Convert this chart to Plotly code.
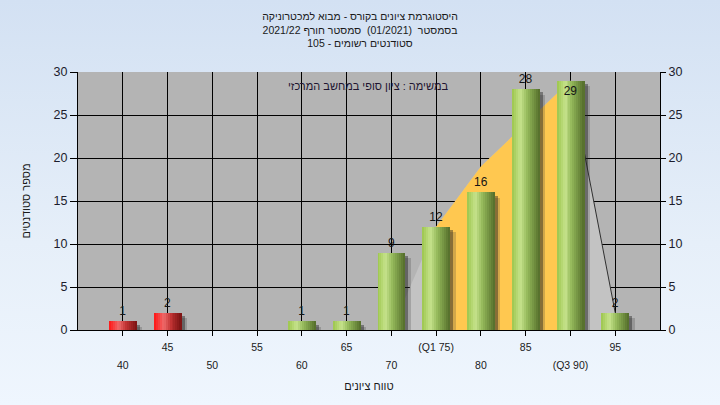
import base64
import plotly.graph_objects as go

# ---------------- data ----------------
grades = [40, 45, 50, 55, 60, 65, 70, 75, 80, 85, 90, 95]
counts = [1, 2, 0, 0, 1, 1, 9, 12, 16, 28, 29, 2]
odd_labels_vals = [45, 55, 65, 75, 85, 95]
odd_labels_text = ["45", "55", "65", "(Q1 75)", "85", "95"]
even_labels_vals = [40, 50, 60, 70, 80, 90]
even_labels_text = ["40", "50", "60", "70", "80", "(Q3 90)"]
curve_x = [70, 75, 80, 85, 90, 95]
curve_y = [0, 12, 19, 24, 29, 2]
iqr_x = [75, 80, 85, 90]
iqr_y = [12, 19, 24, 29]
tail_x = [90, 95]
tail_y = [29, 2]
fail_below = 55

title_lines = [
    "היסטוגרמת ציונים בקורס - מבוא למכטרוניקה",
    "בסמסטר  (01/2021)  סמסטר חורף 2021/22",
    "סטודנטים רשומים - 105",
]
note_text = "במשימה : ציון סופי במחשב המרכזי"
x_title = "טווח ציונים"
y_title = "מספר סטודנטים"

FONT = "Liberation Sans, DejaVu Sans, Arial, sans-serif"
BAR_W = 3.1
N_STRIPES = 14


def hex2rgb(h):
    h = h.lstrip("#")
    return tuple(int(h[i:i + 2], 16) for i in (0, 2, 4))


def grad(stops, t):
    for (t0, c0), (t1, c1) in zip(stops, stops[1:]):
        if t0 <= t <= t1:
            f = (t - t0) / (t1 - t0) if t1 > t0 else 0
            a, b = hex2rgb(c0), hex2rgb(c1)
            return "rgb(%d,%d,%d)" % tuple(round(a[k] + (b[k] - a[k]) * f) for k in range(3))
    return stops[-1][1]


green_stops = [(0, "#9cc64c"), (0.3, "#c6e38c"), (0.55, "#94b95a"), (1, "#536c2a")]
red_stops = [(0, "#ff1414"), (0.35, "#ee6a6a"), (0.6, "#c23434"), (1, "#7a1212")]

fig = go.Figure()

# area behind bars (base subplot x/y)
fig.add_trace(go.Scatter(x=curve_x, y=curve_y, fill="tozeroy", mode="lines",
                         line=dict(width=0), fillcolor="#c3c3c3",
                         hoverinfo="skip", showlegend=False))
fig.add_trace(go.Scatter(x=iqr_x, y=iqr_y, fill="tozeroy", mode="lines",
                         line=dict(width=0), fillcolor="#ffc850",
                         hoverinfo="skip", showlegend=False))
fig.add_trace(go.Scatter(x=tail_x, y=tail_y, mode="lines",
                         line=dict(width=1, color="#303030"),
                         hoverinfo="skip", showlegend=False))

# shadows (overlaid subplot x/y2 -> drawn above the area)
for off, col in [(0.62, "rgba(50,50,50,0.22)"), (0.36, "rgba(30,30,30,0.42)")]:
    fig.add_trace(go.Bar(x=grades, y=counts, base=-off * 1.05, width=BAR_W, yaxis="y2",
                         offset=-BAR_W / 2 + off, marker=dict(color=col, line=dict(width=0)),
                         cliponaxis=False, hoverinfo="skip", showlegend=False))

# cylinder bars as vertical stripes
sw = BAR_W / N_STRIPES
for i in range(N_STRIPES):
    t = (i + 0.5) / N_STRIPES
    cols = [grad(red_stops if g < fail_below else green_stops, t) for g in grades]
    fig.add_trace(go.Bar(x=grades, y=counts, width=sw * 1.08, yaxis="y2",
                         offset=-BAR_W / 2 + i * sw,
                         marker=dict(color=cols, line=dict(width=0)),
                         hoverinfo="skip", showlegend=False))

# value labels
labels = [str(c) if c else "" for c in counts]
positions = ["inside" if c > 28.5 else "outside" for c in counts]
fig.add_trace(go.Bar(x=grades, y=counts, width=BAR_W, text=labels, yaxis="y2",
                     textposition=positions, insidetextanchor="end",
                     textfont=dict(family=FONT, size=12, color="#151515"),
                     insidetextfont=dict(family=FONT, size=12, color="#151515"),
                     outsidetextfont=dict(family=FONT, size=12, color="#151515"),
                     marker=dict(color="rgba(0,0,0,0)", line=dict(width=0)),
                     cliponaxis=False, hoverinfo="skip", showlegend=False))

# invisible helper for the second label row axis
fig.add_trace(go.Scatter(x=[grades[0]], y=[0], xaxis="x2", mode="markers",
                         marker=dict(opacity=0), hoverinfo="skip", showlegend=False))

svg = ('<svg xmlns="http://www.w3.org/2000/svg" width="10" height="100" preserveAspectRatio="none">'
       '<defs><linearGradient id="g" x1="0" y1="0" x2="0" y2="1">'
       '<stop offset="0" stop-color="#d3e1f3"/><stop offset="0.6" stop-color="#e6eff9"/>'
       '<stop offset="1" stop-color="#eff6fe"/></linearGradient></defs>'
       '<rect width="10" height="100" fill="url(#g)"/></svg>')
src = "data:image/svg+xml;base64," + base64.b64encode(svg.encode()).decode()

L, R, T, B = 78, 60, 72, 75
W, H = 720, 405
pw, ph = W - L - R, H - T - B

axis_font = dict(family=FONT, size=12.5, color="#1c1c2c")

fig.update_layout(
    width=W, height=H,
    margin=dict(l=L, r=R, t=T, b=B, pad=0, autoexpand=False),
    paper_bgcolor="#e4eef9",
    plot_bgcolor="rgba(0,0,0,0)",
    barmode="overlay",
    bargap=0,
    showlegend=False,
    hovermode=False,
    font=dict(family=FONT, size=11, color="#1a1a1a"),
    title=dict(text="<br>".join(title_lines), x=0.5, xanchor="center",
               y=1 - 20 / H, yanchor="top",
               font=dict(family=FONT, size=10.5, color="#1a1a1a")),
    images=[dict(source=src, xref="paper", yref="paper", x=-L / pw, y=1 + T / ph,
                 sizex=W / pw, sizey=H / ph, sizing="stretch", layer="below",
                 xanchor="left", yanchor="top")],
    shapes=[dict(type="rect", xref="x domain", yref="y domain", x0=0, x1=1, y0=0, y1=1,
                 fillcolor="#b4b4b4", line=dict(width=0), layer="below")],
    xaxis=dict(range=[35, 100], tickmode="array", tickvals=grades,
               ticktext=[odd_labels_text[odd_labels_vals.index(g)] if g in odd_labels_vals else "" for g in grades],
               ticks="outside", ticklen=5, tickcolor="black", ticklabelstandoff=2,
               showgrid=True, gridcolor="black", gridwidth=1, automargin=False,
               showline=True, linecolor="black", linewidth=1,
               zeroline=False, tickfont=dict(family=FONT, size=10.5, color="#1a1a1a"),
               tickangle=0),
    xaxis2=dict(range=[35, 100], overlaying="x", anchor="y", side="bottom",
                tickmode="array", tickvals=even_labels_vals, ticktext=even_labels_text,
                ticks="", showgrid=False, showline=False, zeroline=False,
                ticklabelstandoff=27, tickangle=0, automargin=False,
                tickfont=dict(family=FONT, size=10.5, color="#1a1a1a"),
                title=dict(text=x_title, standoff=12,
                           font=dict(family=FONT, size=11, color="#1a1a1a"))),
    yaxis=dict(range=[0, 30], dtick=5, tick0=0, ticks="outside", ticklen=7,
               tickcolor="black", showgrid=True, gridcolor="black", gridwidth=1,
               showline=True, linecolor="black", linewidth=1, zeroline=False,
               tickfont=axis_font, automargin=False,
               title=dict(text=y_title, standoff=20,
                          font=dict(family=FONT, size=11, color="#1a1a1a"))),
    yaxis2=dict(range=[0, 30], dtick=5, tick0=0, overlaying="y", side="right",
                anchor="x", ticks="outside", ticklen=5, tickcolor="black",
                showgrid=False, showline=True, linecolor="black", linewidth=1,
                zeroline=False, tickfont=axis_font, automargin=False),
    annotations=[dict(text=note_text, xref="paper", yref="paper", x=0.498,
                      y=(H - B - 86) / ph, xanchor="center", yanchor="middle",
                      showarrow=False,
                      font=dict(family=FONT, size=11, color="#1e1430"))],
)

fig.write_html("out.html", config={"displayModeBar": False, "staticPlot": True},
               post_script="document.body.style.margin='0';document.body.style.padding='0';")
